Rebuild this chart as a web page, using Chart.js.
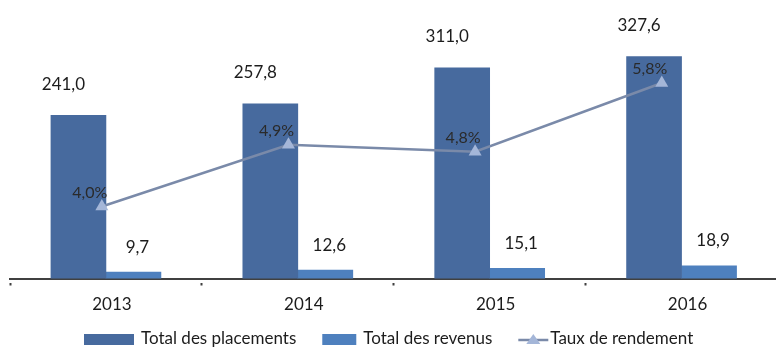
<!DOCTYPE html>
<html>
<head>
<meta charset="utf-8">
<script src="https://cdn.jsdelivr.net/npm/chart.js@4.4.1/dist/chart.umd.min.js"></script>
<style>
  html, body { margin: 0; padding: 0; background: #fff; overflow: hidden; }
</style>
</head>
<body>
<canvas id="chart" width="785" height="349"></canvas>
<script>
// Donnees

const years = ["2013", "2014", "2015", "2016"];
const placements = [241.0, 257.8, 311.0, 327.6];
const revenus = [9.7, 12.6, 15.1, 18.9];
const rendement = [4.0, 4.9, 4.8, 5.8];
const seriesNames = ["Total des placements", "Total des revenus", "Taux de rendement"];

// Couleurs

const colPlacements = "#476a9e";
const colRevenus = "#4e80be";
const colLigne = "#7a8aa9";
const colMarqueur = "#a4b6d8";
const colTexte = "#1c1c1c";
const police = "Lato";

function fmt(v) {
  return v.toFixed(1).replace(".", ",");
}

// Etiquettes de valeurs (dataset 0 = ligne, 1 = placements, 2 = revenus)

const valueLabels = {
  id: "valueLabels",
  afterDatasetsDraw(chart) {
    let ctx = chart.ctx;
    ctx.save();
    ctx.textAlign = "center";
    ctx.textBaseline = "middle";

    ctx.font = `17px ${police}`;
    ctx.fillStyle = colTexte;
    chart.getDatasetMeta(1).data.forEach((bar, i) => {
      ctx.fillText(fmt(placements[i]), bar.x - 15, bar.y - 31);
    });
    chart.getDatasetMeta(2).data.forEach((bar, i) => {
      ctx.fillText(fmt(revenus[i]), bar.x + 4, bar.y - 25);
    });

    ctx.font = `16px ${police}`;
    ctx.fillStyle = "#2a2a2a";
    chart.getDatasetMeta(0).data.forEach((pt, i) => {
      ctx.fillText(fmt(rendement[i]) + "%", pt.x - 12, pt.y - 14);
    });
    ctx.restore();
  },
};

// Legende

const legendBas = {
  id: "legendBas",
  afterDraw(chart) {
    let ctx = chart.ctx;
    let y = 339;
    let x = 84;
    let boxes = [50, 34, 30];
    ctx.save();
    ctx.font = `17px ${police}`;
    ctx.textBaseline = "middle";
    ctx.textAlign = "left";
    seriesNames.forEach((name, i) => {
      let w = boxes[i];
      if (i < 2) {
        ctx.fillStyle = i === 0 ? colPlacements : colRevenus;
        ctx.fillRect(x, y - 5, w, 11);
      } else {
        ctx.strokeStyle = colLigne;
        ctx.lineWidth = 2.5;
        ctx.beginPath();
        ctx.moveTo(x, y + 1);
        ctx.lineTo(x + w, y + 1);
        ctx.stroke();
        ctx.fillStyle = colMarqueur;
        ctx.beginPath();
        ctx.moveTo(x + w / 2, y - 5);
        ctx.lineTo(x + w / 2 + 7, y + 5);
        ctx.lineTo(x + w / 2 - 7, y + 5);
        ctx.closePath();
        ctx.fill();
      }
      ctx.fillStyle = colTexte;
      let tx = x + w + (i === 2 ? 2 : 7);
      ctx.fillText(name, tx, y);
      x = tx + ctx.measureText(name).width + 26;
    });
    ctx.restore();
  },
};

let chart = new Chart(document.getElementById("chart"), {
  type: "bar",
  data: {
    labels: years,
    datasets: [
      {
        type: "line",
        label: seriesNames[2],
        data: rendement.map((v, i) => ({ x: i, y: v })),
        borderColor: colLigne,
        borderWidth: 2.5,
        pointStyle: "triangle",
        pointRadius: 7.5,
        pointBackgroundColor: colMarqueur,
        pointBorderColor: colMarqueur,
        pointBorderWidth: 0,
        tension: 0,
        clip: false,
        grouped: false,
        xAxisID: "x2",
        yAxisID: "y2",
      },
      {
        label: seriesNames[0],
        data: placements,
        backgroundColor: colPlacements,
        barThickness: 55,
        yAxisID: "y",
      },
      {
        label: seriesNames[1],
        data: revenus,
        backgroundColor: colRevenus,
        barThickness: 55,
        yAxisID: "y",
      },
    ],
  },
  options: {
    responsive: false,
    animation: false,
    devicePixelRatio: 1,
    layout: {
      padding: { left: 10, right: 0, top: 0, bottom: 25 },
    },
    plugins: {
      legend: { display: false },
      tooltip: { enabled: false },
    },
    scales: {
      x: {
        offset: true,
        border: { display: true, color: "#404040", width: 2 },
        grid: {
          offset: true,
          drawOnChartArea: false,
          drawTicks: true,
          tickLength: 7,
          tickColor: "#404040",
          tickWidth: 2,
          tickBorderDash: [0, 3, 3, 10],
        },
        ticks: {
          color: colTexte,
          font: { family: police, size: 17 },
          padding: 9,
          labelOffset: 6,
        },
      },
      x2: {
        type: "linear",
        display: false,
        offset: false,
        min: -0.492,
        max: 3.62,
      },
      y: {
        display: false,
        min: 0,
        max: 400,
      },
      y2: {
        display: false,
        min: 2.95,
        max: 6.9,
      },
    },
  },
  plugins: [valueLabels, legendBas],
});
</script>
</body>
</html>
